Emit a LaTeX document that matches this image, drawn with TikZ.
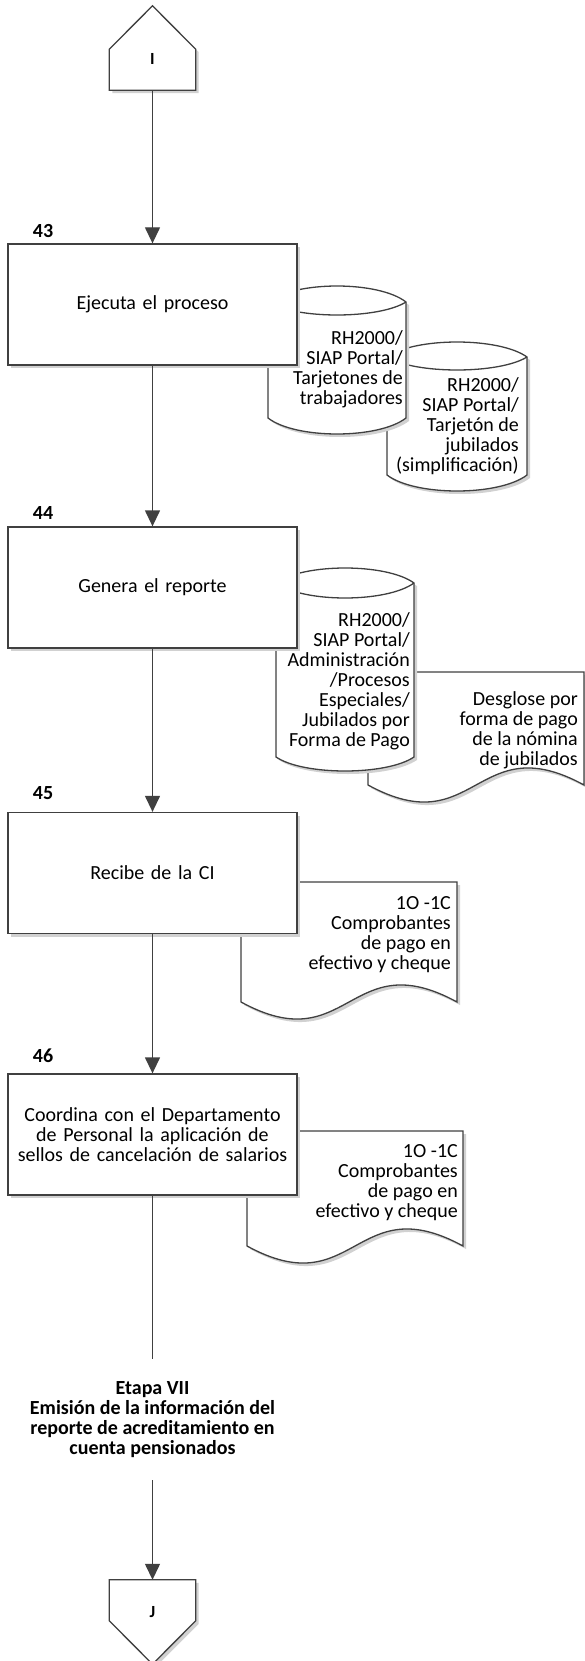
\documentclass[tikz,border=0pt]{standalone}
\usepackage{fontspec}
\setmainfont{Carlito}
\usetikzlibrary{arrows.meta,shadows}
\definecolor{linegray}{HTML}{404040}

\begin{document}
\begin{tikzpicture}[x=1pt,y=-1pt,
  every node/.style={font=\fontsize{20}{20}\selectfont, text=black},
  ln/.style={draw=linegray, line width=1.3pt},
  shade/.style={drop shadow={shadow xshift=3pt,shadow yshift=-3pt,fill=black!18,opacity=1}},
  arr/.style={ln, -{Triangle[length=16pt,width=15pt]}},
  procbox/.style={ln, fill=white, shade, minimum width=289pt, minimum height=121pt,
                  align=center, inner sep=0pt, text width=280pt},
  steplabel/.style={font=\fontsize{20}{20}\selectfont\bfseries},
  conlabel/.style={font=\fontsize{17}{17}\selectfont\bfseries},
  pagecon/.style={minimum width=86pt, minimum height=84pt, inner sep=0pt},
  sidetext/.style={align=right, inner sep=0pt, anchor=east},
  % stored data: width / top sag / lens sag / side height / bottom sag
  pics/diskstore/.style args={#1/#2/#3/#4/#5}{code={
    \path[ln, fill=white, shade] (0,0) .. controls (0.2*#1,-4/3*#2) and (0.8*#1,-4/3*#2) .. (#1,0)
      -- (#1,#4) .. controls (0.8*#1,#4+4/3*#5) and (0.2*#1,#4+4/3*#5) .. (0,#4) -- cycle;
    \draw[ln] (0,0) .. controls (0.2*#1,4/3*#3) and (0.8*#1,4/3*#3) .. (#1,0);
  }},
  % document: width / side height
  pics/docsheet/.style args={#1/#2}{code={
    \path[ln, fill=white, shade] (0,0) -- (#1,0) -- (#1,#2)
      .. controls (0.5*#1,#2-59) and (0.5*#1,#2+59) .. (0,#2) -- cycle;
  }}
]
\useasboundingbox (0,0) rectangle (585,1661);

% ---- off-page connector I ----
\node[pagecon] (I) at (152.5,48) {};
\path[ln, fill=white, shade] (I.south west) -- (I.south east) -- ([yshift=41pt]I.south east)
  -- (I.north) -- ([yshift=41pt]I.south west) -- cycle;
\node[conlabel] (Itext) at (152.5,58.5) {I};

% ---- step 43 ----
\pic at (387,357) {diskstore=140/15/13/118/16};
\node[sidetext] (c2text) at (519,426) {RH2000/\\SIAP Portal/\\Tarjetón de\\jubilados\\(simplificación)};
\pic at (268,302) {diskstore=138/16/13/116/16};
\node[sidetext] (c1text) at (403,369) {RH2000/\\SIAP Portal/\\Tarjetones de\\trabajadores};
\node[procbox] (b43) at (152.5,304.5) {Ejecuta el proceso};
\node[steplabel] (n43) at (43,231) {43};

% ---- step 44 ----
\pic at (368,672) {docsheet=216/113};
\node[sidetext] (d1text) at (578,730) {Desglose por\\forma de pago\\de la nómina\\de jubilados};
\pic at (276,583) {diskstore=138/15/15/174/14};
\node[sidetext] (c3text) at (410,681.5) {RH2000/\\SIAP Portal/\\Administración\\/Procesos\\Especiales/\\Jubilados por\\Forma de Pago};
\node[procbox] (b44) at (152.5,587.5) {Genera el reporte};
\node[steplabel] (n44) at (43,513) {44};

% ---- step 45 ----
\pic at (241,882) {docsheet=216/120};
\node[sidetext] (d2text) at (451,934.5) {1O -1C\\Comprobantes\\de pago en\\efectivo y cheque};
\node[procbox] (b45) at (152.5,873) {Recibe de la CI};
\node[steplabel] (n45) at (43,793) {45};

% ---- step 46 ----
\pic at (247,1131) {docsheet=216/115};
\node[sidetext] (d3text) at (458,1182.5) {1O -1C\\Comprobantes\\de pago en\\efectivo y cheque};
\node[procbox] (b46) at (152.5,1134.5) {Coordina con el Departamento\\de Personal la aplicación de\\sellos de cancelación de salarios};
\node[steplabel] (n46) at (43,1056) {46};

% ---- stage title ----
\node[font=\fontsize{20}{20}\selectfont\bfseries, align=center, minimum height=121pt, inner sep=0pt]
  (etapa) at (152.5,1419.5) {Etapa VII\\Emisión de la información del\\reporte de acreditamiento en\\cuenta pensionados};

% ---- off-page connector J ----
\node[pagecon] (J) at (152.5,1622) {};
\path[ln, fill=white, shade] (J.north west) -- (J.north east) -- ([yshift=-41pt]J.north east)
  -- (J.south) -- ([yshift=-41pt]J.north west) -- cycle;
\node[conlabel] (Jtext) at (152.5,1612) {J};

% ---- flow ----
\draw[arr] (I) -- (b43);
\draw[arr] (b43) -- (b44);
\draw[arr] (b44) -- (b45);
\draw[arr] (b45) -- (b46);
\draw[ln] (b46) -- (etapa);
\draw[arr] (etapa) -- (J);
\end{tikzpicture}
\end{document}
